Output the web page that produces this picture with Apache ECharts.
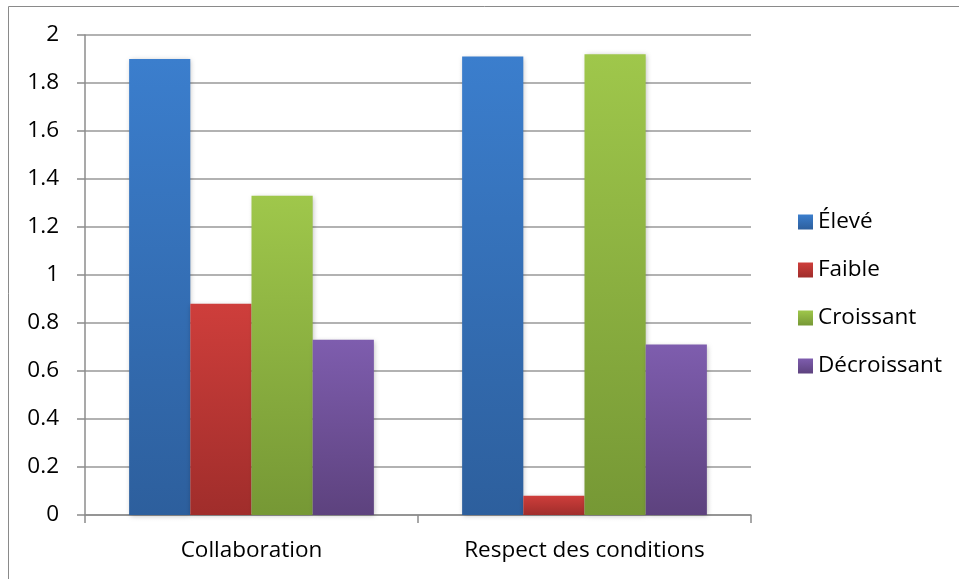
<!DOCTYPE html>
<html>
<head>
<meta charset="utf-8">
<script src="https://cdn.jsdelivr.net/npm/echarts@6/dist/echarts.min.js"></script>
<style>html,body{margin:0;padding:0;background:#fff;}#c{width:959px;height:579px;}</style>
</head>
<body>
<div id="c"></div>
<script>
var categories = ['Collaboration', 'Respect des conditions'];
var seriesNames = ['Élevé', 'Faible', 'Croissant', 'Décroissant'];
var eleve = [1.90, 1.91];
var faible = [0.88, 0.08];
var croissant = [1.33, 1.92];
var decroissant = [0.73, 0.71];
var yTicks = [0, 0.2, 0.4, 0.6, 0.8, 1, 1.2, 1.4, 1.6, 1.8, 2];

var colors = [
  ['#3B7ECD', '#2D5F9D'],
  ['#CE3E3B', '#A02D2B'],
  ['#9FC74B', '#769835'],
  ['#7E5DAE', '#5D427E']
];
var values = [eleve, faible, croissant, decroissant];
var FONT = 'Open Sans';
var FS = 22.5;

function grad(c) {
  return new echarts.graphic.LinearGradient(0, 0, 0, 1, [
    {offset: 0, color: c[0]}, {offset: 1, color: c[1]}
  ]);
}

var chart = echarts.init(document.getElementById('c'), null, {renderer: 'canvas'});
chart.setOption({
  animation: false,
  backgroundColor: '#fff',
  graphic: [{
    type: 'rect', shape: {x: 8.5, y: 6.5, width: 1000, height: 1000},
    style: {fill: 'none', stroke: '#8a8a8a', lineWidth: 1}, z: 0
  }],
  grid: {left: 85, right: 208, top: 35, bottom: 64},
  legend: {
    orient: 'vertical', left: 793, top: 204,
    itemWidth: 15, itemHeight: 15, itemGap: 22,
    icon: 'rect',
    textStyle: {fontFamily: FONT, fontSize: FS, color: '#000', padding: [0, 0, 0, 0], lineHeight: 26},
    data: seriesNames
  },
  xAxis: {
    type: 'category', data: categories,
    axisLine: {lineStyle: {color: '#8c8c8c', width: 1.5}},
    axisTick: {show: true, length: 8, interval: 0, lineStyle: {color: '#8c8c8c', width: 1.5}},
    axisLabel: {fontFamily: FONT, fontSize: FS, color: '#000', margin: 24}
  },
  yAxis: {
    type: 'value', min: 0, max: 2, interval: 0.2,
    axisLine: {show: true, lineStyle: {color: '#8c8c8c', width: 1.5}},
    axisTick: {show: true, length: 8, lineStyle: {color: '#8c8c8c', width: 1.5}},
    splitLine: {lineStyle: {color: '#999', width: 1.5}},
    axisLabel: {fontFamily: FONT, fontSize: FS, color: '#000', margin: 26,
      formatter: function (v) { var r = Math.round(v * 10) / 10; return yTicks.indexOf(r) >= 0 ? String(r) : ''; }}
  },
  series: seriesNames.map(function (n, i) {
    return {
      name: n, type: 'bar', data: values[i],
      barGap: '0%', barCategoryGap: '26.5%',
      itemStyle: {color: grad(colors[i]), shadowBlur: 5, shadowColor: 'rgba(0,0,0,0.25)', shadowOffsetX: 1, shadowOffsetY: 1}
    };
  })
});
</script>
</body>
</html>
